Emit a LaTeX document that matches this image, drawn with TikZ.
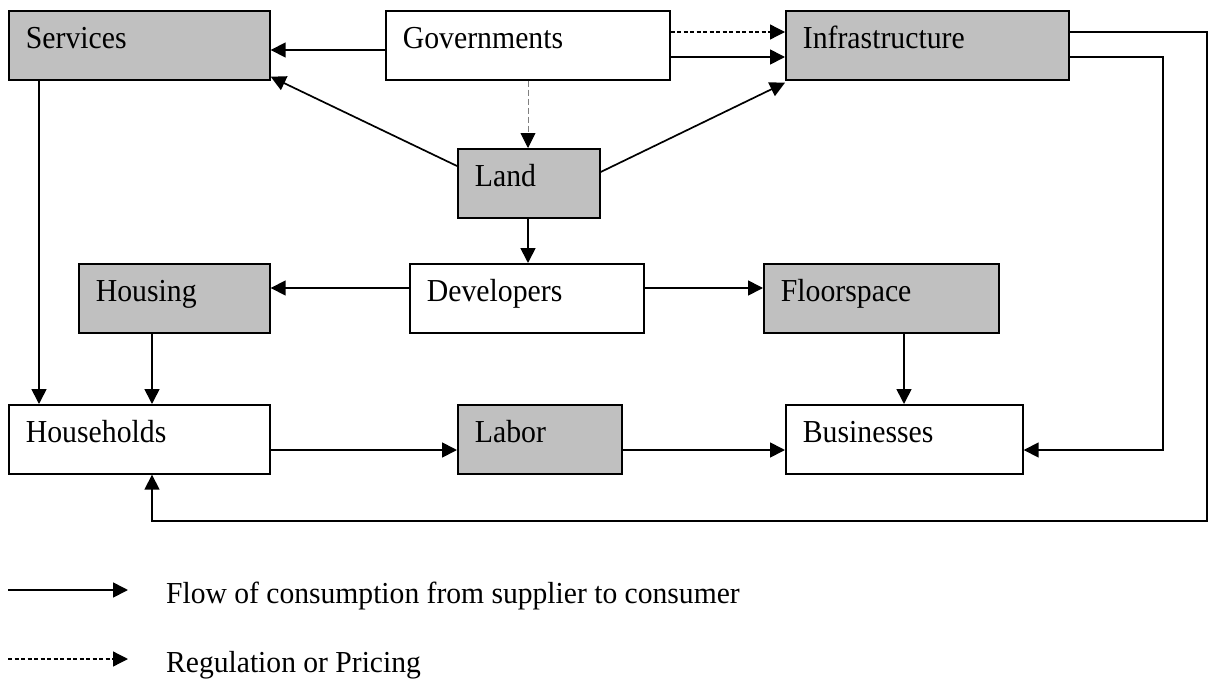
\documentclass[tikz,border=0pt]{standalone}
\usepackage{fontspec}
\setmainfont{Liberation Serif}[FakeStretch=0.93]
\newfontfamily\legendfont{Liberation Serif}[FakeStretch=0.97]
\usetikzlibrary{arrows.meta}
\definecolor{boxgrey}{HTML}{C0C0C0}
\tikzset{
  box/.style={draw=black, line width=1.7pt, rectangle, anchor=north west,
    inner xsep=17pt, inner ysep=0pt, text height=38pt, text depth=31pt,
    align=left, font=\fontsize{32}{38}\selectfont},
  shaded/.style={box, fill=boxgrey},
  plain/.style={box, fill=white},
  tip/.style={-{Triangle[length=15pt,width=15pt]}},
  flow/.style={tip, line width=1.7pt},
  reg/.style={tip, line width=1.3pt, dash pattern=on 4pt off 2.5pt},
  reglight/.style={-{Triangle[length=15pt,width=15pt,color=black,fill=black]},
    line width=0.9pt, draw=gray, dash pattern=on 6pt off 3pt},
  legtext/.style={anchor=base west, inner sep=0pt,
    font=\legendfont\fontsize{30.5}{36}\selectfont}
}
\begin{document}
\begin{tikzpicture}[x=1pt, y=-1pt]
\useasboundingbox (0,0) rectangle (1211,680);

% boxes (text width = box width - 34)
\node[shaded, text width=227pt] (serv)  at (8,10)    {Services};
\node[plain,  text width=250pt] (gov)   at (385,10)  {Governments};
\node[shaded, text width=249pt] (infra) at (785,10)  {Infrastructure};
\node[shaded, text width=108pt] (land)  at (457,148) {Land};
\node[shaded, text width=157pt] (hous)  at (78,263)  {Housing};
\node[plain,  text width=200pt] (dev)   at (409,263) {Developers};
\node[shaded, text width=201pt] (floor) at (763,263) {Floorspace};
\node[plain,  text width=227pt] (hh)    at (8,404)   {Households};
\node[shaded, text width=130pt] (labor) at (457,404) {Labor};
\node[plain,  text width=203pt] (bus)   at (785,404) {Businesses};

% top row
\draw[flow] (gov.west |- 0,50) -- (serv.east |- 0,50);
\draw[flow] (land.west |- 0,166) -- ([yshift=4pt]serv.south east);
\draw[reglight] (528,0 |- gov.south) -- (528,0 |- land.north);
\draw[reg] (gov.east |- 0,32) -- (infra.west |- 0,32);
\draw[flow] (gov.east |- 0,57) -- (infra.west |- 0,57);
\draw[flow] (land.east |- 0,172) -- ([yshift=-2pt]infra.south west);

% long return lines on the right
\draw[flow] (infra.east |- 0,57) -- (1163,57) |- (bus.east |- 0,450);
\draw[flow] (infra.east |- 0,32) -- (1207,32) |- (152,521) -- (hh.south -| 152,0);

% middle
\draw[flow] (serv.south -| 39,0) -- (hh.north -| 39,0);
\draw[flow] (land.south -| 528,0) -- (dev.north -| 528,0);
\draw[flow] (dev.west |- 0,288) -- (hous.east |- 0,288);
\draw[flow] (dev.east |- 0,288) -- (floor.west |- 0,288);
\draw[flow] (hous.south -| 152,0) -- (hh.north -| 152,0);
\draw[flow] (floor.south -| 904,0) -- (bus.north -| 904,0);
\draw[flow] (hh.east |- 0,450) -- (labor.west |- 0,450);
\draw[flow] (labor.east |- 0,450) -- (bus.west |- 0,450);

% legend
\coordinate (la) at (8,590);
\coordinate (lb) at (128,590);
\coordinate (lc) at (8,659);
\coordinate (ld) at (128,659);
\draw[flow] (la) -- (lb);
\draw[reg] (lc) -- (ld);
\node[legtext] (legflow) at (166,603) {Flow of consumption from supplier to consumer};
\node[legtext] (legreg)  at (166,672) {Regulation or Pricing};
\end{tikzpicture}
\end{document}
